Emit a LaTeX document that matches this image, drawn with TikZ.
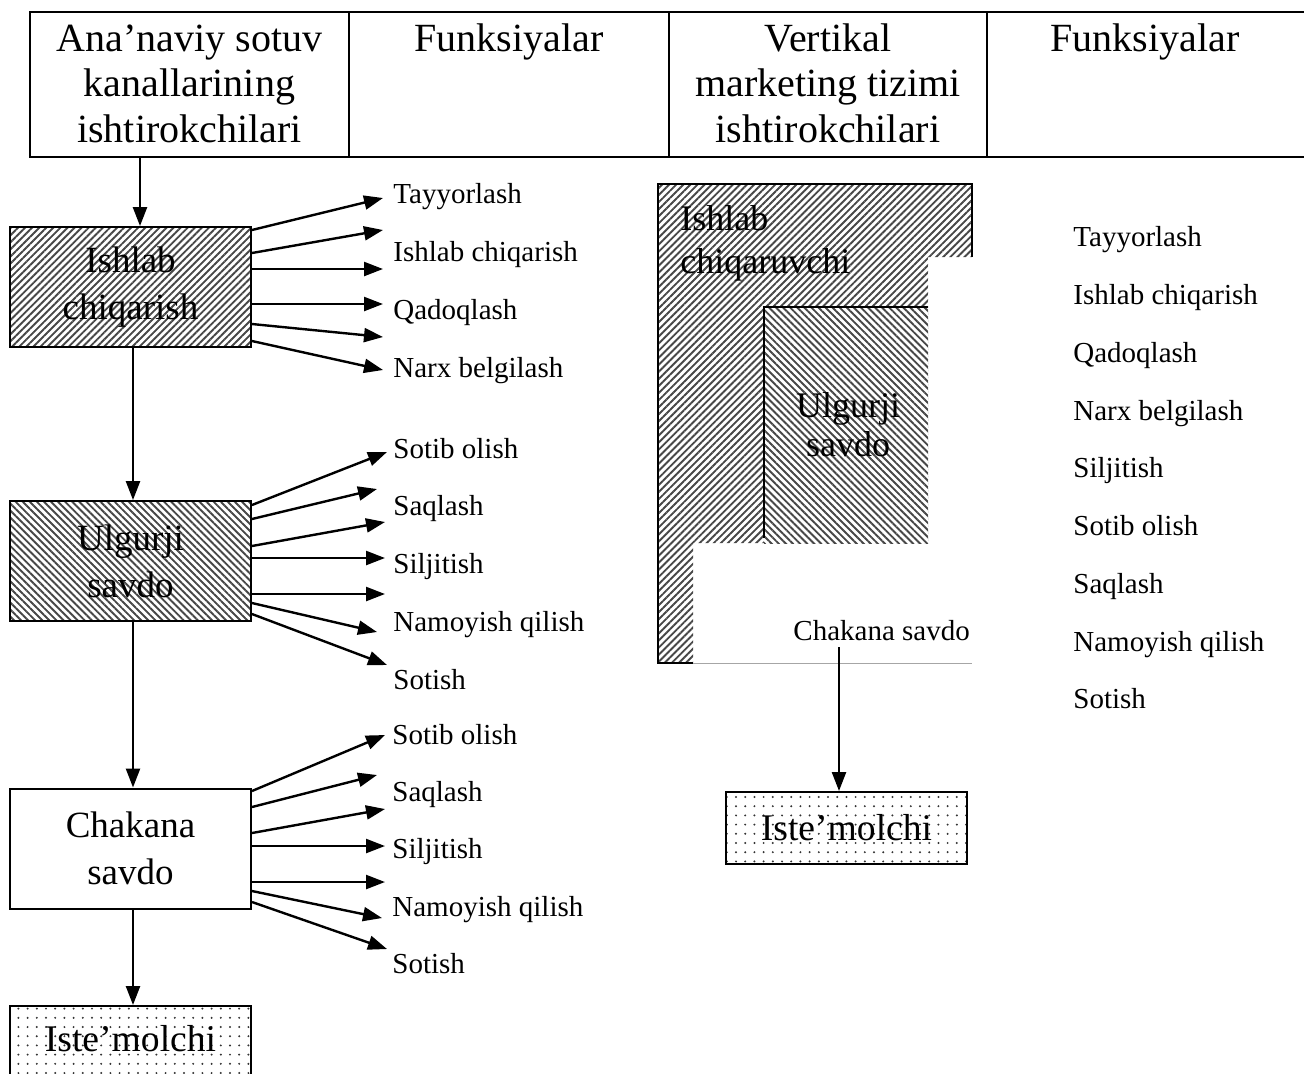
\documentclass[tikz,border=0pt]{standalone}
\usepackage{fontspec}
\setmainfont{Liberation Serif}
\usetikzlibrary{arrows.meta,patterns.meta}

\tikzset{
  hdrtext/.style={font=\fontsize{20}{22.75}\selectfont, inner sep=0pt, anchor=base, align=flush center, text width=150pt},
  chainbox/.style={draw, line width=1pt, minimum width=120.5pt, minimum height=60pt, inner sep=0pt,
                   align=center, font=\fontsize{18.5}{23.5}\selectfont},
  hatchR/.style={pattern={Lines[angle=45,distance=2.5pt,line width=0.95pt]}, pattern color=black!72},
  hatchL/.style={pattern={Lines[angle=-45,distance=2.5pt,line width=0.95pt]}, pattern color=black!72},
  dotfill/.style={pattern={Dots[distance=4.6pt,radius=0.55pt]}, pattern color=black!80},
  func/.style={font=\fontsize{14.5}{17}\selectfont, inner sep=0pt, anchor=base west},
  arr/.style={-{Triangle[length=9.5pt,width=7pt]}, line width=1.2pt},
  rule/.style={line width=1.2pt},
}

\begin{document}
\begin{tikzpicture}[x=0.5pt,y=-0.5pt]
\useasboundingbox (0,0) rectangle (1304,1073);
\clip (0,0) rectangle (1304,1073);

% header table
\draw[rule] (1304,12) -- (30,12) -- (30,157) -- (1304,157);
\draw[rule] (349,12) -- (349,157);
\draw[rule] (669,12) -- (669,157);
\draw[rule] (987,12) -- (987,157);
\node[hdrtext] (hA) at (189.5,51) {Ana’naviy sotuv\\kanallarining\\ishtirokchilari};
\node[hdrtext] (hB) at (509,51) {Funksiyalar};
\node[hdrtext] (hC) at (828,51) {Vertikal\\marketing tizimi\\ishtirokchilari};
\node[hdrtext] (hD) at (1145,51) {Funksiyalar};

% traditional channel
\node[chainbox, hatchR] (prod) at (130.5,287) {Ishlab\\chiqarish};
\node[chainbox, hatchL] (whole) at (130.5,561) {Ulgurji\\savdo};
\node[chainbox] (retail) at (130.5,848.5) {Chakana\\savdo};
\node[chainbox, dotfill, anchor=north, minimum height=50pt, text height=13pt, text depth=18pt,
      font=\fontsize{18.8}{22}\selectfont] (cons) at (130.5,1005) {Iste’molchi};

\coordinate (hdrA) at (140,157);
\draw[arr] (hdrA) -- (hdrA |- prod.north);
\draw[arr] ([xshift=1.25pt]prod.south) -- ([xshift=1.25pt]whole.north);
\draw[arr] ([xshift=1.25pt]whole.south) -- ([xshift=1.25pt]retail.north);
\draw[arr] ([xshift=1.25pt]retail.south) -- ([xshift=1.25pt]cons.north);

% functions of the producer
\foreach \dy/\tx/\ty [count=\i] in {-57/383/198, -34/383/230, -18/383/269, 17/383/304, 37/383/337, 54/383/370}{
  \coordinate (pa\i) at (\tx,\ty);
  \draw[arr] (prod.east) ++(0,\dy) -- (pa\i);
}
\node[func] (f1) at (393,203.5) {Tayyorlash};
\node[func] (f2) at (393,261.5) {Ishlab chiqarish};
\node[func] (f3) at (393,319.5) {Qadoqlash};
\node[func] (f4) at (393,377.5) {Narx belgilash};

% functions of the wholesaler
\foreach \dy/\tx/\ty [count=\i] in {-56/387/452, -42/377/489, -15/385/522, -3/385/558, 33/385/594, 42/377/632, 53/387/665}{
  \coordinate (wa\i) at (\tx,\ty);
  \draw[arr] (whole.east) ++(0,\dy) -- (wa\i);
}
\node[func] (g1) at (393,458.5) {Sotib olish};
\node[func] (g2) at (393,515.5) {Saqlash};
\node[func] (g3) at (393,573) {Siljitish};
\node[func] (g4) at (393,631.5) {Namoyish qilish};
\node[func] (g5) at (393,689.5) {Sotish};

% functions of the retailer
\foreach \dy/\tx/\ty [count=\i] in {-57.5/385/735, -41.5/377/775, -15.5/385/809, -2.5/385/846, 33.5/385/882, 42.5/382/918, 53.5/387/949}{
  \coordinate (ra\i) at (\tx,\ty);
  \draw[arr] (retail.east) ++(0,\dy) -- (ra\i);
}
\node[func] (r1) at (392,744.5) {Sotib olish};
\node[func] (r2) at (392,801.5) {Saqlash};
\node[func] (r3) at (392,858.5) {Siljitish};
\node[func] (r4) at (392,916.5) {Namoyish qilish};
\node[func] (r5) at (392,973.5) {Sotish};

% vertical marketing system
\fill[hatchR] (658,184) -- (972,184) -- (972,257) -- (928,257) -- (928,543) -- (693,543) -- (693,663) -- (658,663) -- cycle;
\fill[white] (764,307) rectangle (928,543);
\fill[hatchL] (764,307) rectangle (928,543);
\draw[line width=1pt] (693,663) -- (658,663) -- (658,184) -- (972,184) -- (972,257);
\draw[black!35, line width=0.5pt] (693,663) -- (972,663);
\draw[line width=0.8pt] (764,538) -- (764,307) -- (928,307);

\node[inner sep=0pt, anchor=base west, text width=100pt, align=left,
      font=\fontsize{18}{21.5}\selectfont] (vprod) at (680,230) {Ishlab\\chiqaruvchi};
\node[inner sep=0pt, anchor=base, text width=80pt, align=flush center,
      font=\fontsize{18}{19.5}\selectfont] (vwhole) at (848,417) {Ulgurji\\savdo};
\node[func] (vretail) at (793,640) {Chakana savdo};
\node[chainbox, dotfill, minimum height=36pt, font=\fontsize{18.8}{22}\selectfont] (vcons) at (846.5,828) {Iste’molchi};
\coordinate (vout) at (839,647);
\draw[arr] (vout) -- (vout |- vcons.north);

% functions of the vertical system
\node[func] (v1) at (1073,246.5) {Tayyorlash};
\node[func] (v2) at (1073,304) {Ishlab chiqarish};
\node[func] (v3) at (1073,362) {Qadoqlash};
\node[func] (v4) at (1073,420) {Narx belgilash};
\node[func] (v5) at (1073,477.5) {Siljitish};
\node[func] (v6) at (1073,535) {Sotib olish};
\node[func] (v7) at (1073,593) {Saqlash};
\node[func] (v8) at (1073,651) {Namoyish qilish};
\node[func] (v9) at (1073,708.5) {Sotish};
\end{tikzpicture}
\end{document}
